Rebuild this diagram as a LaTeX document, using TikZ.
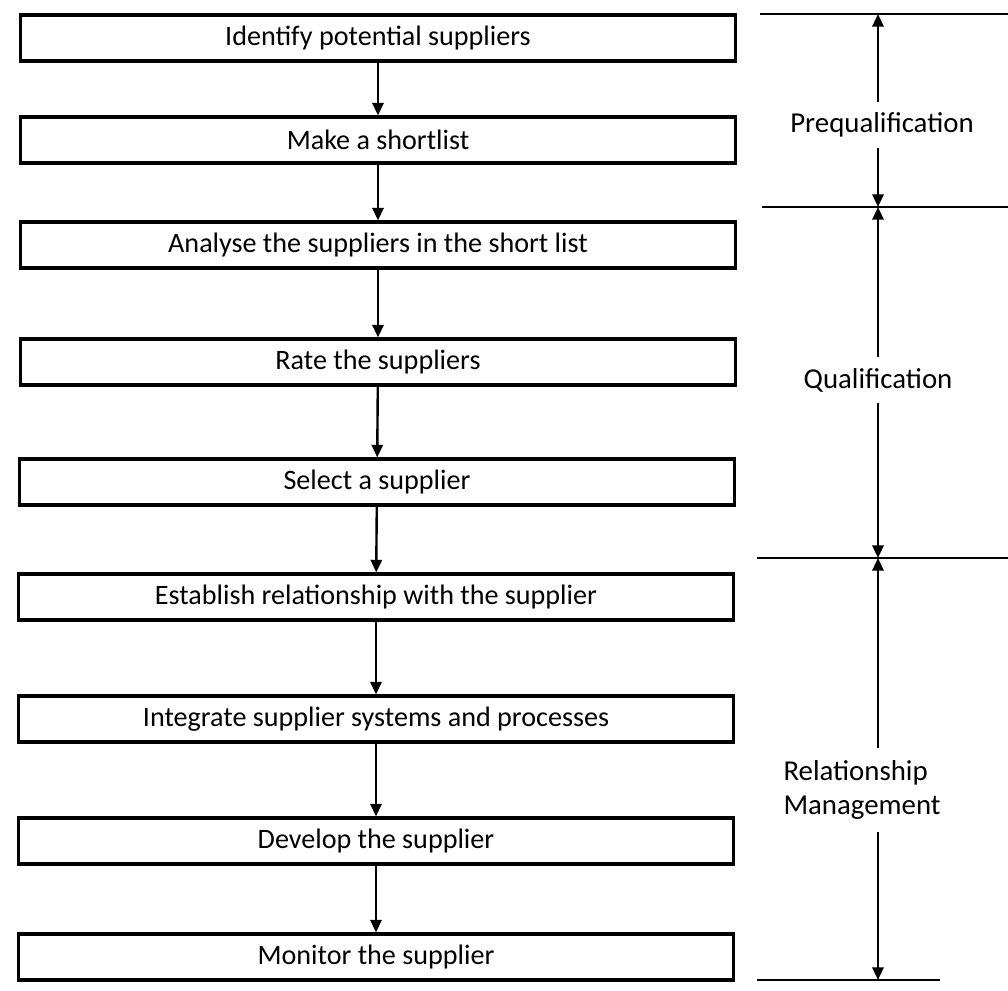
\documentclass[tikz,border=0pt]{standalone}
\usepackage{fontspec}
\setmainfont{Carlito}
\usetikzlibrary{arrows.meta}

\begin{document}
\begin{tikzpicture}[x=0.025cm,y=-0.025cm,>={Triangle[length=9pt,width=8pt]},
    stepbox/.style={draw,line width=2.2pt,minimum width=17.85cm,minimum height=1.15cm,inner sep=0pt,font=\fontsize{20}{24}\selectfont},
    flow/.style={->,line width=1.7pt},
    phase/.style={font=\fontsize{20.5}{24}\selectfont,align=left}]
  \useasboundingbox (0,0) rectangle (1008,991);
  % steps
  \node[stepbox] (s1) at (378,38) {Identify potential suppliers};
  \node[stepbox] (s2) at (378,140) {Make a shortlist};
  \node[stepbox] (s3) at (378,245) {Analyse the suppliers in the short list};
  \node[stepbox] (s4) at (378,362) {Rate the suppliers};
  \node[stepbox] (s5) at (377,482) {Select a supplier};
  \node[stepbox] (s6) at (376,597) {Establish relationship with the supplier};
  \node[stepbox] (s7) at (376,719) {Integrate supplier systems and processes};
  \node[stepbox] (s8) at (376,841) {Develop the supplier};
  \node[stepbox] (s9) at (376,957) {Monitor the supplier};
  \foreach \a/\b in {s1/s2,s2/s3,s3/s4,s4/s5,s5/s6,s6/s7,s7/s8,s8/s9}
    \draw[flow] (\a) -- (\b);
  % phases
  \coordinate (t1) at (878,14);
  \coordinate (t2) at (878,207);
  \coordinate (t3) at (878,558);
  \coordinate (t4) at (878,980);
  \draw[line width=1.7pt] (760,14) -- (1008,14);
  \draw[line width=1.7pt] (762,207) -- (1008,207);
  \draw[line width=1.7pt] (757,558) -- (1008,558);
  \draw[line width=1.3pt] (757,980) -- (940,980);
  \node[phase] (pq) at (882,125) {Prequalification};
  \node[phase] (ql) at (878,380) {Qualification};
  \node[phase] (rm) at (862,790) {Relationship\\Management};
  \draw[flow] (pq.north -| t1) ++(0,-6) -- (t1);
  \draw[flow] (pq.south -| t1) ++(0,6) -- (t2);
  \draw[flow] (ql.north -| t2) ++(0,-6) -- (t2);
  \draw[flow] (ql.south -| t2) ++(0,6) -- (t3);
  \draw[flow] (rm.north -| t3) ++(0,-8) -- (t3);
  \draw[flow] (rm.south -| t3) ++(0,8) -- (t4);
\end{tikzpicture}
\end{document}
